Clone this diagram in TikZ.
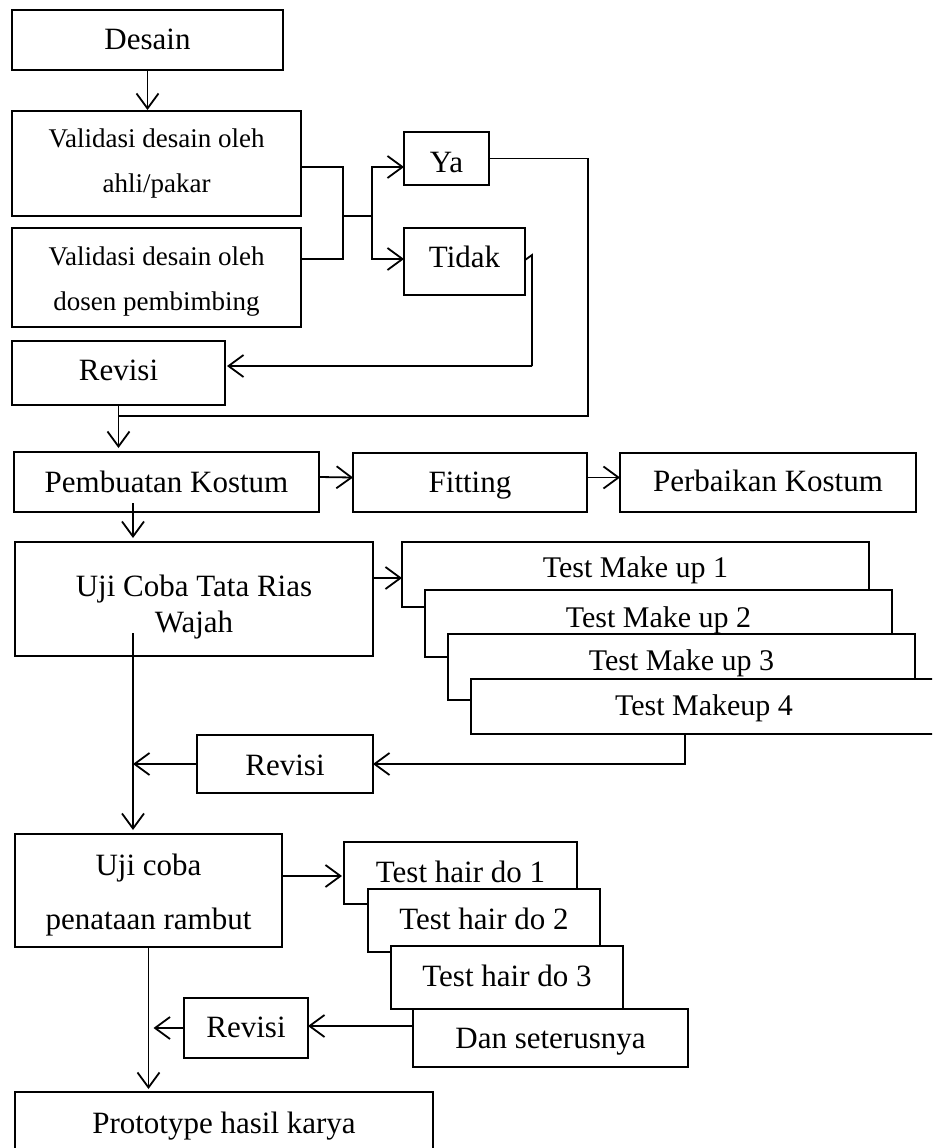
\documentclass[tikz,border=0pt]{standalone}
\usepackage{fontspec}
\setmainfont{Liberation Serif}
\usetikzlibrary{arrows.meta,calc}
\begin{document}
\begin{tikzpicture}[x=1pt,y=-1pt,
  box/.style={draw, line width=2.8pt, fill=white, inner sep=0pt, outer sep=0pt, align=center, font=\fontsize{31}{36}\selectfont},
  one/.style={box, text height=24pt, text depth=4pt},
  smallbox/.style={box, font=\fontsize{27}{45}\selectfont},
  tmbox/.style={one, font=\fontsize{30}{36}\selectfont},
  line/.style={line width=1.8pt},
  arr/.style={line, -{Straight Barb[length=15pt,width=22pt]}},
  ]
\useasboundingbox (0,0) rectangle (932,1148);
\clip (0,0) rectangle (932,1148);

% nodes
\node[one, minimum width=271pt, minimum height=60pt] (desain) at (147.5,40) {Desain};
\node[smallbox, minimum width=289pt, minimum height=105pt] (val1) at (156.5,163.5) {Validasi desain oleh\\ahli/pakar};
\node[smallbox, minimum width=289pt, minimum height=99pt] (val2) at (156.5,277.5) {\rule{0pt}{26pt}Validasi desain oleh\\dosen pembimbing};
\node[one, text height=31pt, minimum width=85pt, minimum height=53pt] (ya) at (446.5,158.5) {Ya};
\node[one, text height=15pt, minimum width=121pt, minimum height=67pt] (tidak) at (464.5,261.5) {Tidak};
\node[one, text height=18pt, minimum width=213pt, minimum height=64pt] (rev1) at (118.5,373) {Revisi};
\node[one, minimum width=305pt, minimum height=60pt] (pemb) at (166.5,482) {Pembuatan Kostum};
\node[one, text height=23pt, minimum width=234pt, minimum height=59pt] (fitting) at (470,482.5) {Fitting};
\node[one, text height=21pt, minimum width=296pt, minimum height=59pt] (perb) at (768,482.5) {Perbaikan Kostum};
\node[box, minimum width=358pt, minimum height=114pt] (uji) at (194,599) {\rule{0pt}{37pt}Uji Coba Tata Rias\\Wajah};
\node[tmbox, text height=9pt, minimum width=467pt, minimum height=65pt] (tm1) at (635.5,574.5) {Test Make up 1};
\node[tmbox, text height=11pt, minimum width=467pt, minimum height=67pt] (tm2) at (658.5,623.5) {Test Make up 2};
\node[tmbox, text height=10pt, minimum width=467pt, minimum height=66pt] (tm3) at (681.5,667) {Test Make up 3};
\node[tmbox, text height=21pt, minimum width=466pt, minimum height=55pt] (tm4) at (704,706.5) {Test Makeup 4};
\node[one, text height=26pt, minimum width=176pt, minimum height=58pt] (rev2) at (285,764) {Revisi};
\node[box, font=\fontsize{31}{54}\selectfont, minimum width=267pt, minimum height=113pt] (uji2) at (148.5,890.5) {\rule{0pt}{31pt}Uji coba\\penataan rambut};
\node[one, text height=22pt, minimum width=233pt, minimum height=62pt] (h1) at (460.5,873) {Test hair do 1};
\node[one, text height=22pt, minimum width=232pt, minimum height=63pt] (h2) at (484,920.5) {Test hair do 2};
\node[one, text height=22pt, minimum width=232pt, minimum height=63pt] (h3) at (507,977.5) {Test hair do 3};
\node[one, minimum width=275pt, minimum height=58pt] (dan) at (550.5,1038) {Dan seterusnya};
\node[one, text height=22pt, minimum width=124pt, minimum height=60pt] (rev3) at (246,1028) {Revisi};
\node[one, minimum width=418pt, minimum height=62pt] (proto) at (224,1123) {Prototype hasil karya};

% helper coordinates
\coordinate (jL) at (343,216);
\coordinate (jR) at (372,216);
\coordinate (yaR) at (588,416);
\coordinate (tk1) at (532,255);
\coordinate (tk2) at (532,366);
\coordinate (pd) at (133,503);
\coordinate (ud) at (133,633);

% connectors
\draw[arr, shorten >=1pt] (desain.south) -- (desain.south |- val1.north);
\draw[line] ([yshift=-3.5pt]val1.east) -| (jL) |- ([yshift=18.5pt]val2.east);
\draw[line] (jL) -- (jR);
\draw[arr] (jR) |- ([yshift=-8.5pt]ya.west);
\draw[arr] (jR) |- ([yshift=2.5pt]tidak.west);
\draw[line] (ya.east) -| (yaR) -- (rev1.south |- yaR);
\draw[line] ([yshift=1.5pt]tidak.east) -- (tk1) -- (tk2);
\draw[arr, shorten >=2pt] (tk2) -- (tk2 -| rev1.east);
\draw[arr, shorten >=4pt] (rev1.south) -- (rev1.south |- pemb.north);
\draw[arr] ([yshift=5pt]pemb.east) -- ([yshift=5pt]fitting.west);
\draw[arr] ([yshift=5pt]fitting.east) -- ([yshift=5pt]perb.west);
\draw[arr, shorten >=4pt] (pd) -- (pd |- uji.north);
\draw[arr] ([yshift=21pt]uji.east) coordinate (u1) -- (u1 -| tm1.west);
\draw[arr, shorten >=4pt] (ud) -- (ud |- uji2.north);
\draw[arr] ([xshift=-19pt]tm4.south) |- (rev2.east);
\draw[arr] (rev2.west) -- (rev2.west -| ud);
\draw[arr, shorten >=2pt] ([yshift=14.5pt]uji2.east) coordinate (u2) -- (u2 -| h1.west);
\draw[arr, shorten >=3pt] (uji2.south) -- (uji2.south |- proto.north);
\draw[arr] ([yshift=12pt]dan.west) -- ([yshift=2pt]rev3.east);
\draw[arr, shorten >=5pt] (rev3.west) -- (rev3.west -| uji2.south);
\end{tikzpicture}
\end{document}
